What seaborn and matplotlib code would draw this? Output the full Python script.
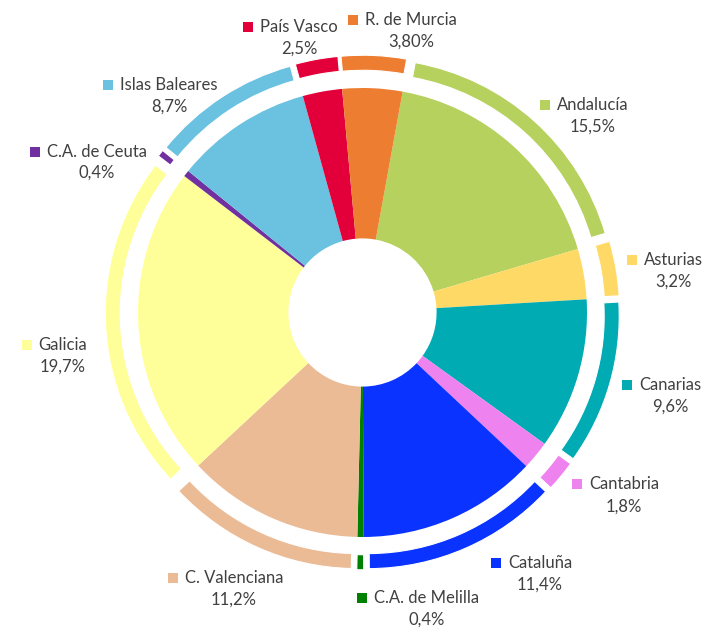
import matplotlib
matplotlib.use("Agg")
import matplotlib.pyplot as plt
import seaborn as sns

# datos (porcentajes tal como aparecen en las etiquetas)
regiones = ["Andalucía", "Asturias", "Canarias", "Cantabria", "Cataluña",
            "C.A. de Melilla", "C. Valenciana", "Galicia", "C.A. de Ceuta",
            "Islas Baleares", "País Vasco", "R. de Murcia"]
valores = [15.5, 3.2, 9.6, 1.8, 11.4, 0.4, 11.2, 19.7, 0.4, 8.7, 2.5, 3.8]
etiquetas_pct = ["15,5%", "3,2%", "9,6%", "1,8%", "11,4%", "0,4%", "11,2%",
                 "19,7%", "0,4%", "8,7%", "2,5%", "3,80%"]
colores = ["#B6D15E", "#FFD966", "#00ABB4", "#EE82EE", "#0A33FF", "#008000",
           "#EBBB96", "#FFFF99", "#7030A0", "#6BC1E0", "#E3003A", "#ED7D31"]

# posición de las etiquetas en píxeles (centro del nombre, y nombre, y porcentaje)
lab_x = [593, 673, 670, 624, 540, 427, 234, 63, 97, 169, 299, 411]
lab_y = [105, 260, 385, 484, 563, 598, 578, 345, 152, 85, 27, 20]
pct_y = [127, 282, 407, 507, 585, 620, 600, 367, 173, 107, 49, 42]

sns.set_theme(style="white")
plt.rcParams['font.family'] = ['Lato', 'DejaVu Sans']

W, H = 713, 628
cx, cy, esc = 362.5, 312.5, 224.5

fig = plt.figure(figsize=(W / 100, H / 100), dpi=100)
ax = fig.add_axes([0, 0, 1, 1])

paleta = sns.color_palette(colores)

# anillo interior (dona)
ax.pie(valores, colors=paleta, startangle=79.7, counterclock=False,
       radius=1.0, wedgeprops=dict(width=0.67, linewidth=0))

# anillo exterior separado
ax.pie(valores, colors=paleta, startangle=79.7, counterclock=False,
       radius=1.085, explode=[0.061] * len(valores),
       wedgeprops=dict(width=0.067, edgecolor="white", linewidth=0.8))

ax.set_xlim(-cx / esc, (W - cx) / esc)
ax.set_ylim(-(H - cy) / esc, cy / esc)
ax.set_aspect("equal")
ax.axis("off")


def px2d(px, py):
    return (px - cx) / esc, (cy - py) / esc


textos = []
for i, nombre in enumerate(regiones):
    x, y = px2d(lab_x[i], lab_y[i])
    t = ax.text(x, y, nombre, ha="center", va="center", fontsize=12, color="#404040")
    textos.append(t)
    x2, y2 = px2d(lab_x[i], pct_y[i])
    ax.text(x2, y2, etiquetas_pct[i], ha="center", va="center", fontsize=12, color="#404040")

# cuadrados de color a la izquierda de cada nombre
fig.canvas.draw()
rend = fig.canvas.get_renderer()
for i, t in enumerate(textos):
    bb = t.get_window_extent(renderer=rend)
    sx = bb.x0 - 12
    x_d, _ = ax.transData.inverted().transform((sx, 0))
    _, y_d = px2d(0, lab_y[i])
    ax.scatter([x_d], [y_d], marker="s", s=52, color=colores[i], linewidths=0)

fig.savefig("out.png", dpi=100)
